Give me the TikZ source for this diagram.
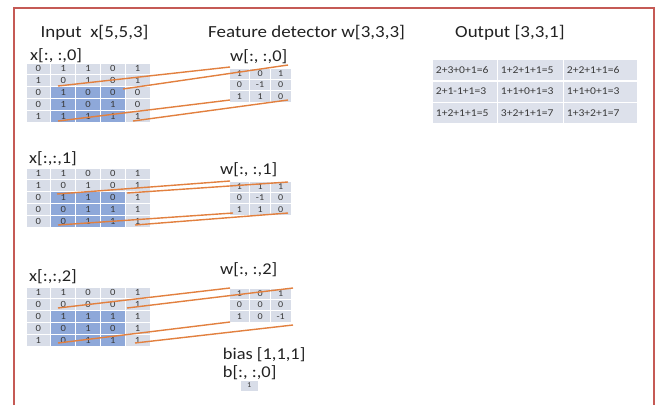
\documentclass[tikz,border=0pt]{standalone}
\usepackage{fontspec}
\setmainfont{Carlito}[FakeStretch=1.12]
\definecolor{framered}{HTML}{C55A55}
\definecolor{cellblue}{HTML}{D8DDE8}
\definecolor{hlblue}{HTML}{8EA8D9}
\definecolor{outcell}{HTML}{DDE1EB}
\definecolor{lineorange}{HTML}{E2803F}
\definecolor{digit}{HTML}{3A3A3A}
\definecolor{titletext}{HTML}{222222}
\newcommand{\mkxgrid}[3]{%
  \foreach \row [count=\r from 0] in {#3} {
    \foreach \v [count=\c from 0] in \row {
      \pgfmathtruncatemacro\hl{(\r>1)&&(\c>0)&&(\c<4)}
      \ifnum\hl=1 \def\cf{hlblue}\else\def\cf{cellblue}\fi
      \node[xcell, fill=\cf] (#1-\r-\c) at ({26+24.8*\c+12.4},{#2+11.8*\r+5.9}) {\v};
    }
  }%
}
\newcommand{\mkwgrid}[3]{%
  \foreach \row [count=\r from 0] in {#3} {
    \foreach \v [count=\c from 0] in \row {
      \node[wcell] (#1-\r-\c) at ({229+20.7*\c+10.35},{#2+11.3*\r+5.65}) {\v};
    }
  }%
}
\begin{document}
\begin{tikzpicture}[x=1bp,y=-1bp,
  title/.style={anchor=west, inner sep=0pt, font=\fontsize{17}{20}\selectfont, text=titletext},
  label/.style={anchor=west, inner sep=0pt, font=\fontsize{16.5}{20}\selectfont, text=titletext},
  xcell/.style={minimum width=24.8bp, minimum height=11.8bp, inner sep=0pt, draw=white, line width=0.8bp, font=\fontsize{9.5}{10}\selectfont, text=digit},
  wcell/.style={minimum width=20.7bp, minimum height=11.3bp, inner sep=0pt, draw=white, line width=0.8bp, fill=cellblue, font=\fontsize{9}{10}\selectfont, text=digit},
  ocell/.style={minimum height=21.7bp, inner sep=0pt, draw=white, line width=1.5bp, fill=outcell},
  otext/.style={anchor=west, inner sep=0pt, font=\fontsize{10.4}{12}\selectfont, text=digit},
  link/.style={draw=lineorange, line width=1.4bp}]
\useasboundingbox (0,0) rectangle (659,405);
\fill[white] (0,0) rectangle (659,405);
% frame
\draw[framered, line width=1.2bp] (14,405) -- (14,8) -- (654,8) -- (654,405);
% titles
\node[title] (tin) at (40.5,33) {Input\ \ x[5,5,3]};
\node[title] (tfd) at (208,33) {Feature detector w[3,3,3]};
\node[title] (tout) at (455,33) {Output [3,3,1]};
% slice labels
\node[label] (lx0) at (30,55.5) {x[:, :,0]};
\node[label] (lw0) at (230,57) {w[:, :,0]};
\node[label] (lx1) at (29,159) {x[:,:,1]};
\node[label] (lw1) at (220,170) {w[:, :,1]};
\node[label] (lx2) at (29,277) {x[:,:,2]};
\node[label] (lw2) at (220,270) {w[:, :,2]};
% x grids
\mkxgrid{xa}{63}{{0,1,1,0,1},{1,0,1,0,1},{0,1,0,0,0},{0,1,0,1,0},{1,1,1,1,1}}
\mkxgrid{xb}{168}{{1,1,0,0,1},{1,0,1,0,1},{0,1,1,0,1},{0,0,1,1,1},{0,0,1,1,1}}
\mkxgrid{xc}{287}{{1,1,0,0,1},{0,0,0,0,1},{0,1,1,1,1},{0,0,1,0,1},{1,0,1,1,1}}
% w grids
\mkwgrid{wa}{68}{{1,0,1},{0,-1,0},{1,1,0}}
\mkwgrid{wb}{181}{{1,1,1},{0,-1,0},{1,1,0}}
\mkwgrid{wc}{288}{{1,0,1},{0,0,0},{1,0,-1}}
% connector end points
\coordinate (a0s) at (58,86);  \coordinate (a0e) at (230,67);
\coordinate (b0s) at (123,89); \coordinate (b0e) at (288,65);
\coordinate (c0s) at (58,121); \coordinate (c0e) at (230,100);
\coordinate (d0s) at (133,121);\coordinate (d0e) at (288,100);
\coordinate (a1s) at (57,194); \coordinate (a1e) at (230,181);
\coordinate (b1s) at (127,193);\coordinate (b1e) at (288,182);
\coordinate (c1s) at (58,225); \coordinate (c1e) at (233,213);
\coordinate (d1s) at (135,225);\coordinate (d1e) at (288,213);
\coordinate (a2s) at (58,308); \coordinate (a2e) at (230,288);
\coordinate (b2s) at (127,308);\coordinate (b2e) at (293,288);
\coordinate (c2s) at (58,343); \coordinate (c2e) at (230,322);
\coordinate (d2s) at (135,343);\coordinate (d2e) at (293,325);
\foreach \s in {0,1,2} {
  \foreach \l in {a,b,c,d} {
    \draw[link] (\l\s s) -- (\l\s e);
  }
}
% output grid
\foreach \row [count=\r from 0] in {{2+3+0+1=6,1+2+1+1=5,2+2+1+1=6},{2+1-1+1=3,1+1+0+1=3,1+1+0+1=3},{1+2+1+1=5,3+2+1+1=7,1+3+2+1=7}} {
  \foreach \v/\xl/\w [count=\c from 0] in {A/431.7/65,B/496.7/66,C/562.7/74} {
    \node[ocell, minimum width=\w bp, anchor=north west] (o-\r-\c) at (\xl,{58.3+21.7*\r}) {};
  }
  \foreach \t [count=\c from 0] in \row {
    \node[otext] (ot-\r-\c) at ([xshift=4bp]o-\r-\c.west) {\t};
  }
}
% bias
\node[label] (lbias) at (222.7,355) {bias [1,1,1]};
\node[label] (lb) at (222.7,372.7) {b[:, :,0]};
\node[wcell, minimum width=18bp, minimum height=11bp, font=\fontsize{7.5}{8}\selectfont] (b0) at (249.2,385.5) {1};
\end{tikzpicture}
\end{document}
